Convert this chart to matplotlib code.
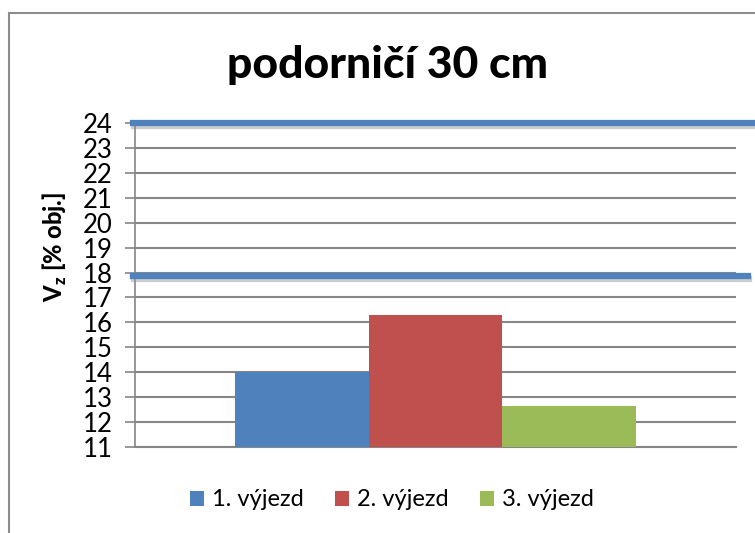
import numpy as np
import matplotlib
matplotlib.use('Agg')
import matplotlib.pyplot as plt
import matplotlib.patheffects as pe
from matplotlib.patches import Rectangle

plt.rcParams['font.family'] = ['Lato', 'DejaVu Sans']

# Data
series = ['1. výjezd', '2. výjezd', '3. výjezd']
values = [14.0, 16.3, 12.65]
colors = ['#4f81bd', '#c0504d', '#9bbb59']
yticks = list(range(11, 25))
marker_lines = [24.0, 17.88]
marker_line_ends = [1.03, 1.02]

fig = plt.figure(figsize=(7.55, 5.33), dpi=100)
# outer chart frame (runs off the right and bottom edges)
fig.patches.append(Rectangle((9 / 755, -0.1), 1.0, 1.1 - 13 / 533, transform=fig.transFigure,
                             fill=False, edgecolor='#8c8c8c', linewidth=1.5))

ax = fig.add_axes([135 / 755, 1 - 447 / 533, 601 / 755, 324 / 533])

width = 0.222
xpos = (np.arange(len(values)) - 1) * width
for x, v, c, s in zip(xpos, values, colors, series):
    ax.bar(x, v - 11, bottom=11, width=width, color=c, label=s, zorder=3)

ax.set_xlim(-0.5, 0.5)
ax.set_ylim(11, 24)
ax.set_yticks(yticks)
ax.set_xticks([])
ax.yaxis.grid(True, color='#868686', linewidth=1.5, zorder=0)
ax.tick_params(axis='y', length=7, width=1.2, color='#868686', labelsize=18.5, pad=9)
for side in ['top', 'right']:
    ax.spines[side].set_visible(False)
ax.spines['left'].set_color('#868686')
ax.spines['bottom'].set_color('#868686')
ax.spines['left'].set_linewidth(1.2)
ax.spines['bottom'].set_linewidth(1.5)

# thick blue lines with shadow
for y, xe in zip(marker_lines, marker_line_ends):
    ax.axhline(y, xmin=-0.003, xmax=xe, color='#4f81bd', linewidth=4.5, clip_on=False, zorder=5,
               path_effects=[pe.SimpleLineShadow(offset=(0.5, -2.5), shadow_color='#909090', alpha=0.45),
                             pe.Normal()])

fig.text(388 / 755, 1 - 65 / 533, 'podorničí 30 cm', ha='center', va='center',
         fontsize=32, fontweight='black')
fig.text(55 / 755, 1 - 247 / 533, r'V$_\mathregular{z}$ [% obj.]', rotation=90, ha='center', va='center',
         fontsize=17, fontweight='black')

handles, labels = ax.get_legend_handles_labels()
fig.legend(handles, labels, loc='center', bbox_to_anchor=(392 / 755, 1 - 500 / 533), ncol=3,
           frameon=False, fontsize=17, handlelength=0.6, handleheight=0.6, handletextpad=0.35,
           columnspacing=1.3)

fig.savefig('out.png', dpi=100)
